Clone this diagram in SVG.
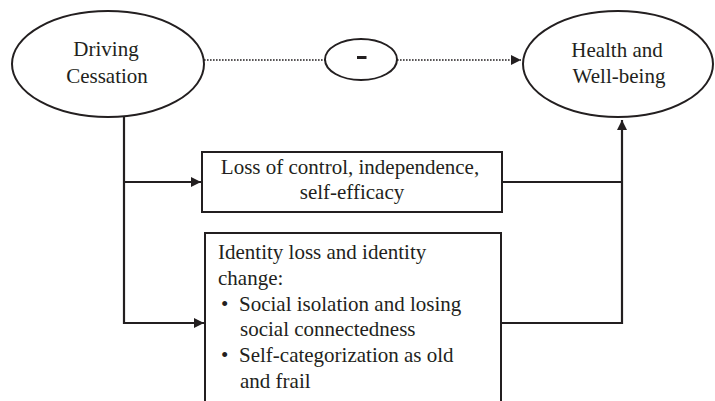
<svg xmlns="http://www.w3.org/2000/svg" width="715" height="401" viewBox="0 0 715 401">
<style>
.shape{fill:#fff;stroke:#231f20;stroke-width:2}
.line{fill:none;stroke:#231f20;stroke-width:2.2}
.dot{fill:none;stroke:#231f20;stroke-width:1.6;stroke-dasharray:1.6 1.4}
text{font-family:"Liberation Serif","Times New Roman",serif;font-size:21px;fill:#231f20}
.c{text-anchor:middle}
</style>
<defs>
<marker id="arr" viewBox="0 0 10 10" refX="10" refY="5" markerWidth="10" markerHeight="10" markerUnits="userSpaceOnUse" orient="auto">
<path d="M0,0 L10,5 L0,10 Z" fill="#231f20"/>
</marker>
</defs>
<rect width="715" height="401" fill="#fff"/>
<g id="connectors">
<line class="dot" x1="204" y1="60" x2="325" y2="60"/>
<line class="dot" x1="397" y1="60" x2="521" y2="60" marker-end="url(#arr)"/>
<polyline class="line" points="124,117 124,323 204,323" marker-end="url(#arr)"/>
<line class="line" x1="124" y1="182" x2="201" y2="182" marker-end="url(#arr)"/>
<polyline class="line" points="502,182 622,182"/>
<polyline class="line" points="502,323 622,323 622,120" marker-end="url(#arr)"/>
</g>
<g id="driving">
<ellipse class="shape" cx="108" cy="64" rx="96" ry="53"/>
<text class="c" x="106" y="56">Driving</text>
<text class="c" x="107" y="83">Cessation</text>
</g>
<g id="minus">
<ellipse class="shape" cx="361" cy="59.5" rx="36" ry="20.5"/>
<rect x="357" y="56" width="9.5" height="3" fill="#231f20"/>
</g>
<g id="health">
<ellipse class="shape" cx="618" cy="64" rx="95" ry="53"/>
<text class="c" x="617" y="57">Health and</text>
<text class="c" x="619" y="83">Well-being</text>
</g>
<g id="control">
<rect class="shape" x="202" y="152" width="300" height="60"/>
<text class="c" x="350" y="174">Loss of control, independence,</text>
<text class="c" x="352" y="199">self-efficacy</text>
</g>
<g id="identity">
<rect class="shape" x="205" y="233" width="296" height="190"/>
<text x="218" y="259">Identity loss and identity</text>
<text x="218" y="285">change:</text>
<text x="221" y="311">•</text>
<text x="239" y="311">Social isolation and losing</text>
<text x="240" y="336">social connectedness</text>
<text x="221" y="362">•</text>
<text x="239" y="362">Self-categorization as old</text>
<text x="240" y="388">and frail</text>
</g>
</svg>
